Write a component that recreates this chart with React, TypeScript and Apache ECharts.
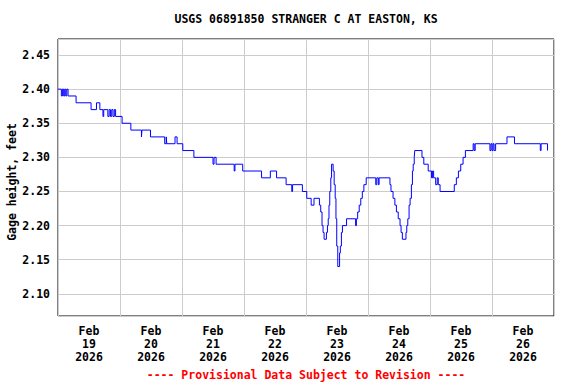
import React, { useEffect, useRef } from "react";
import * as echarts from "echarts";

const START = Date.UTC(2026, 1, 19);
const HOUR = 3600000;
const DAY = 24 * HOUR;
const NUM_DAYS = 8;

const titleText = "USGS 06891850 STRANGER C AT EASTON, KS";
const yAxisName = "Gage height, feet";
const footerText = "---- Provisional Data Subject to Revision ----";
const monthName = "Feb";

// hours since Feb 19 2026 00:00 at which the gage reading changed
const hours = [
  0, 1.3, 1.7, 2.2, 2.6, 3.0, 3.4, 3.9, 7.0, 12.8, 14.9, 16.2, 17.4, 17.7, 19.3, 19.8, 20.3, 20.8, 21.3, 21.8, 22.3,
  24.8, 28.2, 32.3, 32.5, 35.8, 41.3, 41.9, 42.1, 45.3, 46.1, 48.3, 52.6, 60.0, 60.4, 61.2, 68.2, 68.5, 71.5,
  78.8, 82.2, 84.6, 88.3, 90.5, 90.8, 94.6, 96.3, 98.0, 99.1, 101.2, 101.7, 102.2, 102.6, 103.0, 103.9, 104.3,
  104.6, 104.9, 105.2, 105.6, 105.9, 106.5, 106.9, 107.3, 107.6, 107.9, 108.3, 109.0, 109.3, 109.7, 110.1, 111.7,
  115.2, 115.5, 116.0, 116.6, 117.2, 117.8, 118.4, 119.3, 123.0, 123.4, 124.0, 124.3, 128.5, 128.9, 129.7, 130.4,
  131.0, 131.7, 132.4, 132.8, 133.3, 134.7, 135.0, 135.4, 135.9, 136.3, 136.8, 137.2, 137.5, 137.9, 138.1, 140.9,
  141.6, 143.3, 144.6, 145.0, 145.4, 146.2, 146.8, 147.2, 147.9, 153.4, 154.2, 155.0, 155.9, 156.8, 157.7, 160.7,
  161.1, 161.5, 167.2, 167.6, 168.0, 168.4, 168.8, 169.4, 173.8, 176.7, 186.7, 187.0, 189.5,
];

// gage height (feet) from each of those times on
const levels = [
  2.40, 2.39, 2.40, 2.39, 2.40, 2.39, 2.40, 2.39, 2.38, 2.37, 2.38, 2.37, 2.36, 2.37, 2.36, 2.37, 2.36, 2.37, 2.36, 2.37, 2.36,
  2.35, 2.34, 2.33, 2.34, 2.33, 2.32, 2.33, 2.32, 2.33, 2.32, 2.31, 2.30, 2.29, 2.30, 2.29, 2.28, 2.29, 2.28,
  2.27, 2.28, 2.27, 2.26, 2.25, 2.26, 2.25, 2.24, 2.23, 2.24, 2.23, 2.22, 2.20, 2.19, 2.18, 2.19, 2.20,
  2.21, 2.23, 2.25, 2.27, 2.29, 2.28, 2.26, 2.24, 2.21, 2.17, 2.14, 2.16, 2.17, 2.19, 2.20, 2.21,
  2.20, 2.21, 2.22, 2.23, 2.24, 2.25, 2.26, 2.27, 2.26, 2.27, 2.26, 2.27, 2.26, 2.25, 2.24, 2.23,
  2.22, 2.21, 2.20, 2.19, 2.18, 2.19, 2.20, 2.21, 2.23, 2.24, 2.26, 2.28, 2.29, 2.30, 2.31, 2.30,
  2.29, 2.28, 2.27, 2.28, 2.27, 2.26, 2.27, 2.26, 2.25, 2.26, 2.27, 2.28, 2.29, 2.30, 2.31, 2.32,
  2.31, 2.32, 2.31, 2.32, 2.31, 2.32, 2.31, 2.32, 2.33, 2.32, 2.31, 2.32, 2.31,
];

const Y_MIN = 2.0675;
const Y_MAX = 2.4735;
const Y_STEP = 0.05;

const FONT = "'DejaVu Sans Mono', 'Liberation Mono', monospace";

export default function App() {
  const ref = useRef<HTMLDivElement>(null);

  useEffect(() => {
    if (!ref.current) return;
    const chart = echarts.init(ref.current, null, { renderer: "svg" });
    const data = hours.map((h, i) => [START + h * HOUR, levels[i]]);

    chart.setOption({
      animation: false,
      backgroundColor: "#ffffff",
      grid: {
        left: 58,
        right: 22,
        top: 39,
        bottom: 68,
        containLabel: false,
        outerBoundsMode: "none",
        show: true,
        borderColor: "#000000",
        borderWidth: 1,
        backgroundColor: "transparent",
      },
      xAxis: [
        {
          type: "value",
          min: START,
          max: START + NUM_DAYS * DAY,
          interval: DAY,
          axisLine: { show: false },
          axisTick: { show: false },
          axisLabel: { show: false },
          splitLine: { show: true, lineStyle: { color: "#cccccc", width: 1 } },
        },
        {
          type: "value",
          min: START,
          max: START + NUM_DAYS * DAY,
          interval: DAY / 2,
          position: "bottom",
          axisLine: { show: false },
          axisTick: { show: false },
          splitLine: { show: false },
          axisLabel: {
            show: true,
            margin: 8,
            showMinLabel: false,
            showMaxLabel: false,
            hideOverlap: false,
            fontFamily: FONT,
            fontWeight: "bold",
            fontSize: 11.5,
            lineHeight: 13,
            color: "#000000",
            formatter: (v: number) => {
              const d = new Date(v);
              if (d.getUTCHours() !== 12) return "";
              return `${monthName}\n${d.getUTCDate()}\n${d.getUTCFullYear()}`;
            },
          },
        },
      ],
      yAxis: {
        type: "value",
        min: Y_MIN,
        max: Y_MAX,
        splitNumber: 8,
        minInterval: Y_STEP,
        maxInterval: Y_STEP,
        axisLine: { show: false },
        axisTick: { show: false },
        splitLine: { show: true, lineStyle: { color: "#cccccc", width: 1 } },
        axisLabel: {
          margin: 8,
          showMinLabel: false,
          showMaxLabel: false,
          fontFamily: FONT,
          fontWeight: "bold",
          fontSize: 11.5,
          color: "#000000",
          formatter: (v: number) => v.toFixed(2),
        },
      },
      graphic: [
        {
          type: "text",
          x: 306,
          y: 19,
          style: {
            text: titleText,
            fontFamily: FONT,
            fontWeight: "bold",
            fontSize: 11.5,
            fill: "#000000",
            textAlign: "center",
            textVerticalAlign: "middle",
          },
        },
        {
          type: "text",
          x: 12,
          y: 182,
          rotation: Math.PI / 2,
          style: {
            text: yAxisName,
            fontFamily: FONT,
            fontWeight: "bold",
            fontSize: 11.5,
            fill: "#000000",
            textAlign: "center",
            textVerticalAlign: "middle",
          },
        },
        {
          type: "text",
          x: 306,
          y: 375,
          style: {
            text: footerText,
            fontFamily: FONT,
            fontWeight: "bold",
            fontSize: 11.5,
            fill: "#ff0000",
            textAlign: "center",
            textVerticalAlign: "middle",
          },
        },
      ],
      series: [
        {
          type: "line",
          xAxisIndex: 0,
          step: "end",
          showSymbol: false,
          symbol: "none",
          data,
          lineStyle: { color: "#0000ff", width: 1 },
        },
      ],
    });

    return () => chart.dispose();
  }, []);

  return (
    <div
      ref={ref}
      style={{ position: "fixed", left: 0, top: 0, width: 576, height: 384, background: "#ffffff" }}
    />
  );
}
